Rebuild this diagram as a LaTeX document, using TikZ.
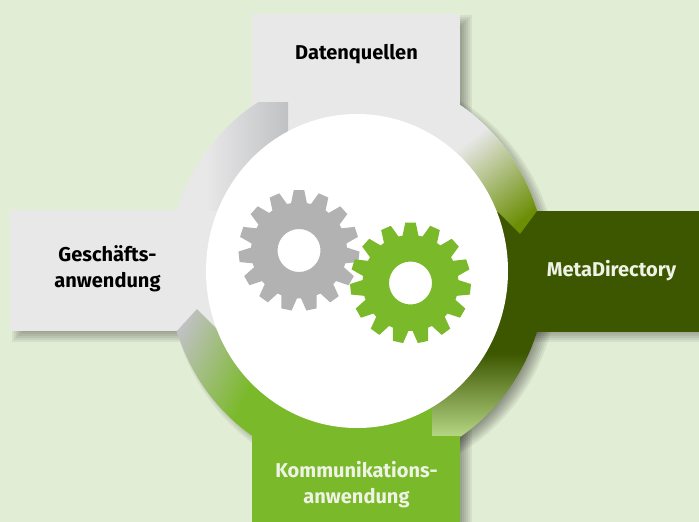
\documentclass[tikz,border=0pt]{standalone}
\usepackage{fontspec}
\setmainfont{Fira Sans}
\definecolor{bgc}{HTML}{E2EDD5}
\definecolor{lgrey}{HTML}{E8E8E9}
\definecolor{mgrey}{HTML}{C0C1C3}
\definecolor{gearg}{HTML}{B2B2B2}
\definecolor{lgreen}{HTML}{7AB929}
\definecolor{dgreen}{HTML}{3D5600}
\definecolor{mgreen}{HTML}{6B8E05}
\definecolor{pgreen}{HTML}{B5D684}
\definecolor{wtext}{HTML}{EEF3E6}
\tikzset{
  x=1pt,y=-1pt,
  label/.style={font=\bfseries\fontsize{20}{26}\selectfont,align=center,inner sep=0pt},
}
\begin{document}
\begin{tikzpicture}
\useasboundingbox (0,0) rectangle (699,522);
\fill[bgc] (0,0) rectangle (699,522);
% soft shadow
\foreach \d in {-11,-9,-7,-5,-3,-1,1,3,5}{
  \begin{scope}[shift={(7,6)}]
  \fill[black,opacity=0.06] (357,271) ellipse [x radius=189+\d, y radius=198+\d];
  \fill[black,opacity=0.06] (252-\d,14-\d) rectangle (460+\d,150);
  \fill[black,opacity=0.06] (10-\d,210-\d) rectangle (200,331+\d);
  \fill[black,opacity=0.06] (520,211-\d) rectangle (720,331+\d);
  \fill[black,opacity=0.06] (252-\d,400) rectangle (460+\d,540);
  \end{scope}
}
% boxes
\fill[lgrey] (252,14) rectangle (460,150);
\fill[lgrey] (10,210) rectangle (220,331);
\fill[dgreen] (490,211) rectangle (699,332);
\fill[lgreen] (252,400) rectangle (460,522);
% ring
\begin{scope}
  \clip (357,271) ellipse [x radius=189, y radius=198];
  \fill[lgrey] (150,90) rectangle (357,340);
  \fill[lgrey] (357,211) rectangle (560,90);
  \fill[dgreen] (357,211) rectangle (560,353);
  \fill[lgreen] (357,332) rectangle (432,480);
  % lower right fade
  \shade[top color=dgreen,bottom color=pgreen] (432,353) rectangle (560,436);
  \fill[lgreen] (357,436) rectangle (470,480);
  % upper left fade
  \begin{scope}
    \clip (150,102) rectangle (288,210);
    \shade[left color=lgrey,right color=mgrey] (205,102) rectangle (288,240);
  \end{scope}
  % upper right fade
  \begin{scope}
    \clip (537,211) -- (520,234) -- (498,212) -- (440,212) -- (440,90) -- (560,90) -- (560,179) -- cycle;
    \begin{scope}[transform canvas={shift={(473,137)},rotate=-51.5}]
      \shade[left color=lgrey,right color=mgreen] (0,-120) rectangle (96,120);
    \end{scope}
    \begin{scope}[transform canvas={shift={(473,137)},rotate=-51.5}]
      \fill[lgrey] (-100,-120) rectangle (0.5,120);
      \fill[mgreen] (95.5,-120) rectangle (140,120);
    \end{scope}
  \end{scope}
  % lower left fade
  \begin{scope}
    \clip (177,331) -- (197,309) -- (240,352) -- (300,420) -- (252,480) -- (120,480) -- (120,374) -- cycle;
    \begin{scope}[transform canvas={shift={(185,320)},rotate=-25}]
      \shade[left color=mgrey,right color=lgreen] (0,-150) rectangle (88,150);
    \end{scope}
    \begin{scope}[transform canvas={shift={(185,320)},rotate=-25}]
      \fill[mgrey] (-60,-150) rectangle (0.5,150);
      \fill[lgreen] (87.5,-150) rectangle (220,150);
    \end{scope}
  \end{scope}
\end{scope}
% hub
\fill[white] (357,271) ellipse [x radius=151, y radius=157];
% gears
\foreach \cx/\cy/\col in {299/250.5/gearg,410.5/283/lgreen}{
  \fill[\col,even odd rule,shift={(\cx,\cy)}] (270-9.5:48)
    \foreach \i [evaluate=\i as \a using 270+24*\i] in {0,...,14}{
      -- (\a-9.5:48) -- (\a-5:60.5) -- (\a+5:60.5) -- (\a+9.5:48)
    } -- cycle (0,0) circle [radius=21.5];
}
% labels
\node[label,text=black] (dq) at (356.5,54) {Datenquellen};
\node[label,text=black] (ga) at (107.5,268.5) {Geschäfts-\\anwendung};
\node[label,text=wtext] (md) at (611.5,271) {MetaDirectory};
\node[label,text=wtext] (ka) at (356.5,485) {Kommunikations-\\anwendung};
\end{tikzpicture}
\end{document}
